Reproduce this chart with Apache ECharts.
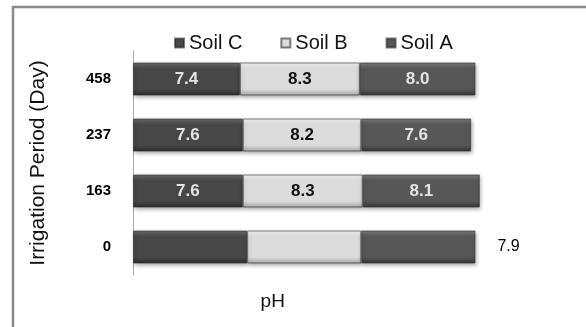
<!DOCTYPE html>
<html>
<head>
<meta charset="utf-8">
<script src="https://cdn.jsdelivr.net/npm/echarts@6/dist/echarts.min.js"></script>
<style>
  html, body { margin: 0; padding: 0; background: #fff; }
  #chart { width: 586px; height: 327px; }
</style>
</head>
<body>
<div id="chart"></div>
<script>
// irrigation periods, bottom to top
var days = ['0', '163', '237', '458'];
var soilC = [7.9, 7.6, 7.6, 7.4];
var soilB = [7.9, 8.3, 8.2, 8.3];
var soilA = [7.9, 8.1, 7.6, 8.0];

var font = 'Liberation Sans, Arial, sans-serif';

function bevelFill(top, mid, low) {
  return new echarts.graphic.LinearGradient(0, 0, 0, 1, [
    { offset: 0, color: top },
    { offset: 0.2, color: mid },
    { offset: 0.8, color: mid },
    { offset: 1, color: low }
  ]);
}

function makeSeries(name, values, fill, labelColor) {
  return {
    name: name,
    type: 'bar',
    stack: 'total',
    barCategoryGap: '41%',
    data: values.map(function (v, i) {
      // the day-0 row only carries one value label, outside the stack
      if (i === 0 && name === 'Soil A') {
        return {
          value: v,
          label: { position: 'right', distance: 22, color: '#000', fontWeight: 'normal', fontSize: 16 }
        };
      }
      return v;
    }),
    itemStyle: {
      color: fill,
      borderColor: 'rgba(40,40,40,0.6)',
      borderWidth: 1,
      shadowColor: 'rgba(0,0,0,0.35)',
      shadowBlur: 4,
      shadowOffsetX: 1,
      shadowOffsetY: 2
    },
    label: {
      show: true,
      position: 'inside',
      fontFamily: font,
      fontSize: 17,
      fontWeight: 'bold',
      color: labelColor,
      formatter: function (p) {
        if (p.dataIndex === 0 && p.seriesName !== 'Soil A') return '';
        return p.value.toFixed(1);
      }
    }
  };
}

var chart = echarts.init(document.getElementById('chart'));
chart.setOption({
  animation: false,
  graphic: [{
    type: 'rect',
    shape: { x: 13, y: 7, width: 700, height: 500 },
    style: { fill: 'none', stroke: '#8a8a8a', lineWidth: 2.5 }
  }],
  legend: {
    left: 169,
    top: 28,
    itemWidth: 9,
    itemHeight: 9,
    itemGap: 38,
    icon: 'rect',
    textStyle: { fontFamily: font, fontSize: 20, color: '#111' },
    data: ['Soil C', 'Soil B', 'Soil A']
  },
  grid: { left: 133, right: 19.5, top: 51, bottom: 52 },
  xAxis: {
    type: 'value',
    min: 0,
    max: 30,
    axisLine: { show: false },
    axisTick: { show: false },
    axisLabel: { show: false },
    splitLine: { show: false },
    name: 'pH',
    nameLocation: 'middle',
    nameGap: 17,
    nameTextStyle: {
      fontFamily: font, fontSize: 19, color: '#111',
      padding: [0, 154, 0, 0]
    }
  },
  yAxis: {
    type: 'category',
    data: days,
    axisLine: { show: true, lineStyle: { color: '#a8a8a8', width: 1 } },
    axisTick: { show: false },
    axisLabel: {
      margin: 22,
      fontFamily: font,
      fontSize: 15,
      fontWeight: 'bold',
      color: '#000'
    },
    name: 'Irrigation Period (Day)',
    nameLocation: 'middle',
    nameGap: 84,
    nameTextStyle: { fontFamily: font, fontSize: 21, color: '#111' }
  },
  series: [
    makeSeries('Soil C', soilC, bevelFill('#6c6c6c', '#474747', '#2f2f2f'), '#e4e4e4'),
    makeSeries('Soil B', soilB, bevelFill('#f6f6f6', '#dcdcdc', '#a9a9a9'), '#111'),
    makeSeries('Soil A', soilA, bevelFill('#7a7a7a', '#575757', '#363636'), '#e4e4e4')
  ]
});
</script>
</body>
</html>
